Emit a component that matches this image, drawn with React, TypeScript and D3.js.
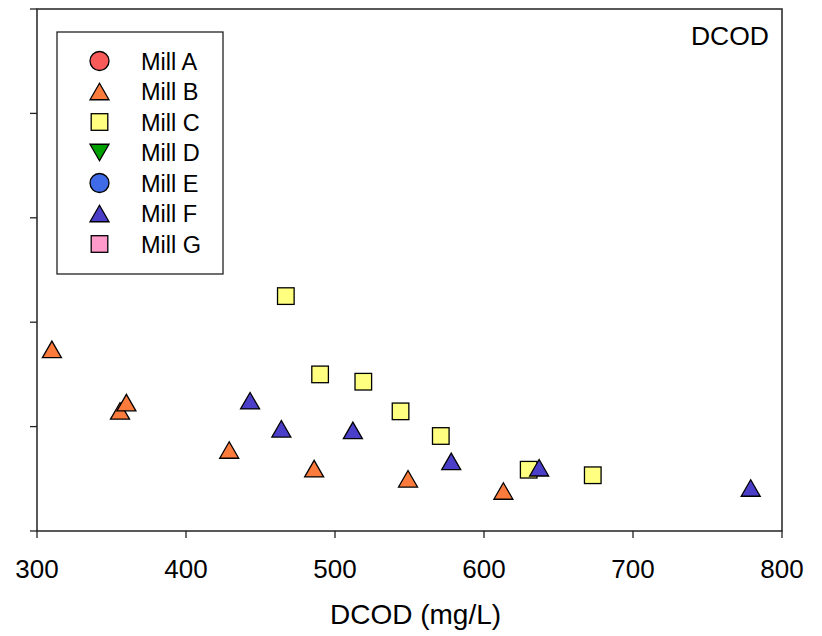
import React from "react";
import * as d3 from "d3";

const W = 822;
const H = 636;

const xTicks = [300, 400, 500, 600, 700, 800];
const yTicks = [0, 1, 2, 3, 4, 5];

const millNames = ["Mill A", "Mill B", "Mill C", "Mill D", "Mill E", "Mill F", "Mill G"];
const millColors = ["#F85A5A", "#FA7B3C", "#FFFF80", "#00A000", "#3F6BE8", "#4B3EC8", "#FF9ACB"];
const millShapes = ["circle", "triangle", "square", "triangleDown", "circle", "triangle", "square"];

const millAx: number[] = [];
const millAy: number[] = [];
const millBx = [310, 355.7, 360, 429, 486, 549, 613];
const millBy = [1.74, 1.15, 1.23, 0.776, 0.597, 0.5, 0.383];
const millCx = [467, 490, 519, 544, 571, 630, 673];
const millCy = [2.25, 1.5, 1.43, 1.146, 0.91, 0.587, 0.534];
const millDx: number[] = [];
const millDy: number[] = [];
const millEx: number[] = [];
const millEy: number[] = [];
const millFx = [443, 464, 512, 578, 637, 779];
const millFy = [1.248, 0.979, 0.964, 0.667, 0.606, 0.412];
const millGx: number[] = [];
const millGy: number[] = [];

const seriesX = [millAx, millBx, millCx, millDx, millEx, millFx, millGx];
const seriesY = [millAy, millBy, millCy, millDy, millEy, millFy, millGy];

const margin = { left: 37, right: 40, top: 9, bottom: 105 };
const x = d3.scaleLinear().domain([300, 800]).range([margin.left, W - margin.right]);
const y = d3.scaleLinear().domain([0, 5]).range([H - margin.bottom, margin.top]);

const FONT = "'Liberation Sans', Arial, Helvetica, sans-serif";

function Marker({ shape, cx, cy, fill }: { shape: string; cx: number; cy: number; fill: string }) {
  const common = { fill, stroke: "#000", strokeWidth: 1.3 };
  if (shape === "circle") return <circle cx={cx} cy={cy} r={9.5} {...common} />;
  if (shape === "square") return <rect x={cx - 8.3} y={cy - 8.3} width={16.6} height={16.6} {...common} />;
  const s = 19;
  const h = 16.5;
  if (shape === "triangle") {
    const p = `${cx},${cy - h / 2} ${cx + s / 2},${cy + h / 2} ${cx - s / 2},${cy + h / 2}`;
    return <polygon points={p} {...common} strokeLinejoin="miter" />;
  }
  const p = `${cx - s / 2},${cy - h / 2} ${cx + s / 2},${cy - h / 2} ${cx},${cy + h / 2}`;
  return <polygon points={p} {...common} />;
}

export default function App() {
  const x0 = x.range()[0];
  const x1 = x.range()[1];
  const y0 = y.range()[0];
  const y1 = y.range()[1];
  return (
    <svg width={W} height={H} style={{ position: "absolute", left: 0, top: 0, background: "#fff" }}>
      <rect x={0} y={0} width={W} height={H} fill="#fff" />
      {/* frame */}
      <rect x={x0} y={y1} width={x1 - x0} height={y0 - y1} fill="none" stroke="#222" strokeWidth={1.5} />
      {/* y ticks */}
      {yTicks.map((t) => (
        <line key={"yt" + t} x1={x0 - 7} x2={x0} y1={y(t)} y2={y(t)} stroke="#222" strokeWidth={1.3} />
      ))}
      {/* x ticks */}
      {xTicks.map((t) => (
        <g key={"xt" + t}>
          <line x1={x(t)} x2={x(t)} y1={y0} y2={y0 + 7} stroke="#222" strokeWidth={1.3} />
          <text x={x(t)} y={578} textAnchor="middle" fontFamily={FONT} fontSize={26} fill="#000">
            {t}
          </text>
        </g>
      ))}
      <text x={415.5} y={624} textAnchor="middle" fontFamily={FONT} fontSize={28} fill="#000">
        DCOD (mg/L)
      </text>
      <text x={769} y={45} textAnchor="end" fontFamily={FONT} fontSize={26.5} fill="#000">
        DCOD
      </text>
      {/* points */}
      {seriesX.map((xs, si) =>
        xs.map((xv, i) => (
          <Marker key={`p${si}-${i}`} shape={millShapes[si]} cx={x(xv)} cy={y(seriesY[si][i])} fill={millColors[si]} />
        ))
      )}
      {/* legend */}
      <rect x={57} y={32} width={166} height={242} fill="#fff" stroke="#222" strokeWidth={1.3} />
      {millNames.map((n, i) => {
        const cy = 61 + i * 30.5;
        return (
          <g key={n}>
            <Marker shape={millShapes[i]} cx={99.5} cy={cy} fill={millColors[i]} />
            <text x={141} y={cy + 8.5} fontFamily={FONT} fontSize={23.5} fill="#000">
              {n}
            </text>
          </g>
        );
      })}
    </svg>
  );
}
